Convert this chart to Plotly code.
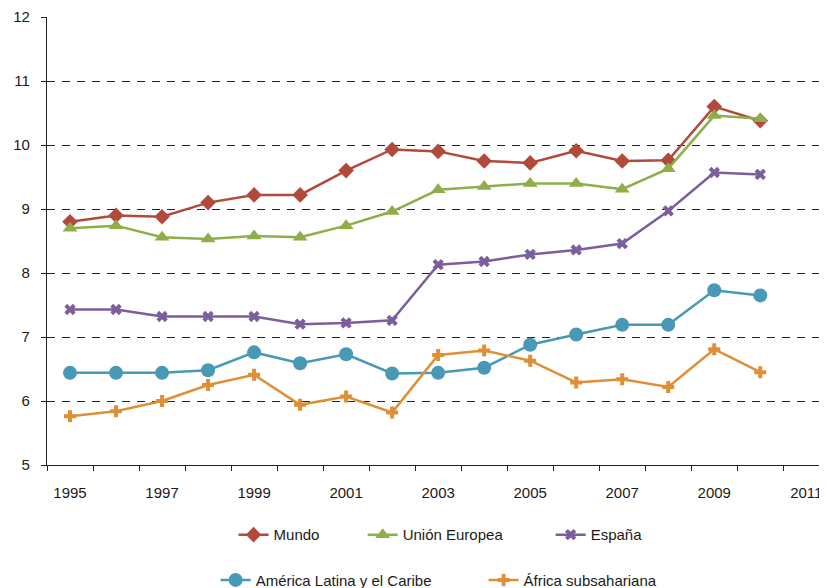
import plotly.graph_objects as go

years = list(range(1995, 2011))
mundo = [8.80, 8.90, 8.88, 9.10, 9.22, 9.22, 9.60, 9.93, 9.90, 9.75, 9.72, 9.91, 9.75, 9.76, 10.60, 10.38]
union_europea = [8.70, 8.74, 8.56, 8.53, 8.58, 8.56, 8.74, 8.96, 9.30, 9.35, 9.40, 9.40, 9.31, 9.63, 10.46, 10.41]
espana = [7.43, 7.43, 7.32, 7.32, 7.32, 7.20, 7.22, 7.26, 8.13, 8.18, 8.29, 8.36, 8.46, 8.97, 9.57, 9.54]
america_latina = [6.44, 6.44, 6.44, 6.48, 6.76, 6.59, 6.73, 6.43, 6.44, 6.52, 6.88, 7.04, 7.19, 7.19, 7.73, 7.65]
africa = [5.76, 5.84, 6.00, 6.25, 6.41, 5.94, 6.07, 5.82, 6.72, 6.79, 6.63, 6.29, 6.34, 6.22, 6.81, 6.45]

x_tick_labels = [str(y) for y in range(1995, 2012, 2)]
y_ticks = list(range(5, 13))

FONT = "Liberation Sans, Arial, sans-serif"
TXT = "#1a1a1a"

# name, values, colour, symbol, size, legend id, legend x (paper), legend y (paper)
series = [
    ("Mundo", mundo, "#B24A3C", "diamond", 12, "legend", 0.2392, -0.156),
    ("Unión Europea", union_europea, "#8FAE48", "triangle-up", 13, "legend2", 0.4047, -0.156),
    ("España", espana, "#7B5E9B", "x", 10, "legend3", 0.6457, -0.156),
    ("América Latina y el Caribe", america_latina, "#4799B6", "circle", 14, "legend4", 0.2162, -0.257),
    ("África subsahariana", africa, "#DF9036", "cross", 10, "legend5", 0.5597, -0.257),
]

fig = go.Figure()
legends = {}
for name, vals, col, sym, size, leg, lx, ly in series:
    fig.add_trace(go.Scatter(
        x=years, y=vals, name=name, mode="lines+markers",
        line=dict(color=col, width=2.5),
        marker=dict(symbol=sym, size=size, color=col, line=dict(width=0)),
        legend=leg,
    ))
    legends[leg] = dict(orientation="h", x=lx, xanchor="left", y=ly, yanchor="middle",
                        font=dict(size=15, family=FONT, color=TXT),
                        bgcolor="rgba(0,0,0,0)", borderwidth=0)

fig.update_layout(
    width=819, height=580,
    margin=dict(l=39, r=0, t=9, b=123, autoexpand=False),
    paper_bgcolor="white", plot_bgcolor="white",
    font=dict(family=FONT, size=15, color=TXT),
    showlegend=True,
    **legends,
)

fig.update_xaxes(
    range=[1994.5, 2011.45], automargin=False,
    tickmode="array", tickvals=list(range(1995, 2012, 2)), ticktext=x_tick_labels,
    ticks="", showgrid=False, zeroline=False,
    showline=True, linecolor="#222", linewidth=1.3,
    ticklabelstandoff=14,
    tickfont=dict(size=15, family=FONT, color=TXT),
    minor=dict(tickmode="linear", tick0=1994.5, dtick=1, ticks="outside",
               ticklen=5, tickwidth=1.3, tickcolor="#222", showgrid=False),
)
fig.update_yaxes(
    range=[5, 12], automargin=False,
    tickmode="array", tickvals=y_ticks,
    ticks="outside", ticklen=5, tickwidth=1.3, tickcolor="#222",
    showline=True, linecolor="#222", linewidth=1.3,
    showgrid=True, gridcolor="#222", gridwidth=1, griddash="8px,7px",
    zeroline=False, ticklabelstandoff=8,
    tickfont=dict(size=15, family=FONT, color=TXT),
)

fig.write_html("out.html")
